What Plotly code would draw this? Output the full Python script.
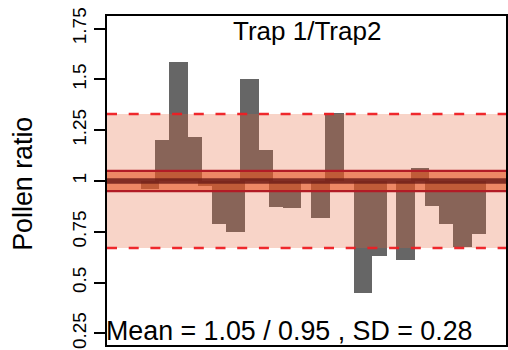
import plotly.graph_objects as go

# ---- data ----
sample = list(range(1, 25))
ratio = [0.96, 1.20, 1.585, 1.215, 0.977, 0.79, 0.75, 1.50, 1.155, 0.873,
         0.868, None, 0.82, 1.333, None, 0.451, 0.63, None, 0.61, 1.062,
         0.878, 0.787, 0.676, 0.737]
mean_hi = 1.05
mean_lo = 0.95
sd_band = 0.33
title_text = "Trap 1/Trap2"
stats_text = "Mean = 1.05 / 0.95 , SD = 0.28"
ytick_vals = [0.25, 0.5, 0.75, 1.0, 1.25, 1.5, 1.75]
ytick_text = ["0.25", "0.5", "0.75", "1", "1.25", "1.5", "1.75"]

FONT = "Liberation Sans, Arial, sans-serif"

xs, lens = [], []
for s, r in zip(sample, ratio):
    if r is None:
        continue
    xs.append(s)
    lens.append(r - 1.0)

fig = go.Figure()
fig.add_trace(go.Bar(
    x=xs, y=lens, base=1.0, offset=0, width=1.3,
    marker=dict(color="#666666", line=dict(width=0)),
    showlegend=False, hoverinfo="skip",
))

band_c = "rgba(228,95,50,0.27)"
inner_c = "rgba(230,85,35,0.6)"
shapes = [
    dict(type="rect", xref="paper", yref="y", x0=0, x1=1,
         y0=1 - sd_band, y1=1 + sd_band, fillcolor=band_c, line=dict(width=0), layer="above"),
    dict(type="rect", xref="paper", yref="y", x0=0, x1=1,
         y0=mean_lo, y1=mean_hi, fillcolor=inner_c, line=dict(width=0), layer="above"),
    dict(type="line", xref="paper", yref="y", x0=0, x1=1, y0=1 + sd_band, y1=1 + sd_band,
         line=dict(color="rgba(238,30,35,0.95)", width=2.5, dash="10px,11.7px"), layer="above"),
    dict(type="line", xref="paper", yref="y", x0=0, x1=1, y0=1 - sd_band, y1=1 - sd_band,
         line=dict(color="rgba(238,30,35,0.95)", width=2.5, dash="10px,11.7px"), layer="above"),
    dict(type="line", xref="paper", yref="y", x0=0, x1=1, y0=mean_hi, y1=mean_hi,
         line=dict(color="rgb(178,28,38)", width=2.3), layer="above"),
    dict(type="line", xref="paper", yref="y", x0=0, x1=1, y0=mean_lo, y1=mean_lo,
         line=dict(color="rgb(178,28,38)", width=2.3), layer="above"),
    dict(type="line", xref="paper", yref="y", x0=0, x1=1, y0=1.0, y1=1.0,
         line=dict(color="rgba(110,30,25,0.85)", width=5.5), layer="above"),
]

fig.update_layout(
    width=508, height=350,
    margin=dict(l=107, r=2, t=16, b=5, autoexpand=False),
    paper_bgcolor="white", plot_bgcolor="white",
    shapes=shapes,
    bargap=0,
    hovermode=False,
    font=dict(family=FONT, color="black"),
    xaxis=dict(range=[-1.396, 26.72], showticklabels=False, ticks="",
               showgrid=False, zeroline=False, showline=True, mirror=True,
               linecolor="black", linewidth=2, automargin=False),
    yaxis=dict(range=[0.193, 1.812], tickvals=ytick_vals, ticktext=ytick_text,
               ticks="outside", ticklen=11, tickwidth=1.5, tickcolor="black",
               tickangle=-90, tickfont=dict(size=19, family=FONT),
               showgrid=False, zeroline=False, showline=True, mirror=True,
               linecolor="black", linewidth=2, automargin=False),
    annotations=[
        dict(text=title_text, xref="paper", yref="paper", x=0.5, y=1,
             xanchor="center", yanchor="top", yshift=2, showarrow=False,
             font=dict(size=26, family=FONT)),
        dict(text=stats_text, xref="paper", yref="paper", x=0, y=0,
             xanchor="left", yanchor="bottom", xshift=-3, yshift=-3, showarrow=False,
             font=dict(size=26.8, family=FONT)),
        dict(text="Pollen ratio", xref="paper", yref="paper", x=0, y=0.49,
             xanchor="center", yanchor="middle", xshift=-84, textangle=-90,
             showarrow=False, font=dict(size=26.8, family=FONT)),
    ],
)

fig.write_html("out.html", config={"displayModeBar": False},
               post_script="document.body.style.margin='0';document.body.style.padding='0';")
